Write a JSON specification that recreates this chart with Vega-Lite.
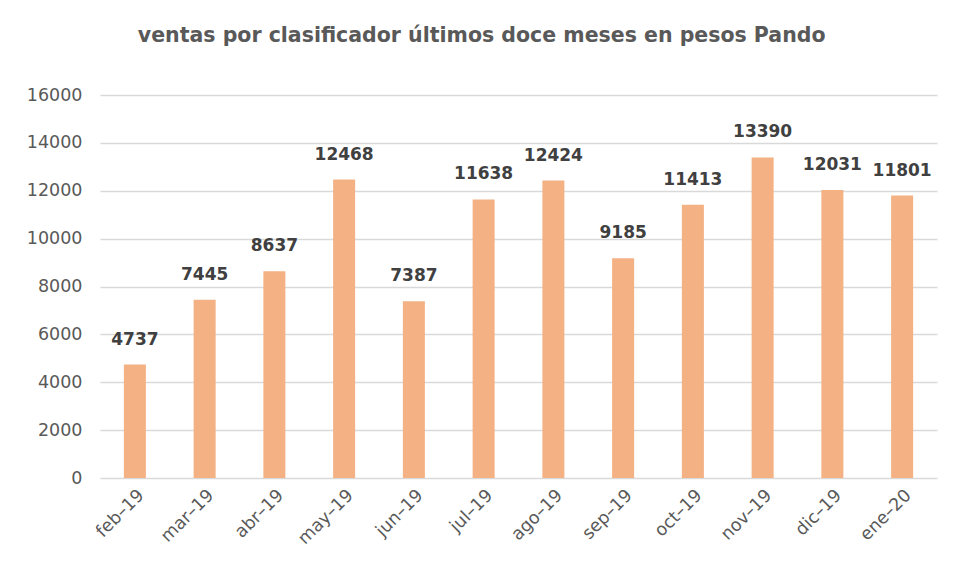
{
  "$schema": "https://vega.github.io/schema/vega-lite/v6.json",
  "width": 837,
  "height": 383,
  "autosize": {"type": "none"},
  "padding": {"left": 100, "top": 95, "right": 16, "bottom": 100},
  "background": "white",
  "title": {
    "text": "ventas por clasificador últimos doce meses en pesos Pando",
    "font": "DejaVu Sans",
    "fontSize": 20.5,
    "fontWeight": "bold",
    "color": "#595959",
    "anchor": "middle",
    "frame": "bounds",
    "offset": 40
  },
  "data": {
    "values": [
      {"mes": "feb–19", "ventas": 4737},
      {"mes": "mar–19", "ventas": 7445},
      {"mes": "abr–19", "ventas": 8637},
      {"mes": "may–19", "ventas": 12468},
      {"mes": "jun–19", "ventas": 7387},
      {"mes": "jul–19", "ventas": 11638},
      {"mes": "ago–19", "ventas": 12424},
      {"mes": "sep–19", "ventas": 9185},
      {"mes": "oct–19", "ventas": 11413},
      {"mes": "nov–19", "ventas": 13390},
      {"mes": "dic–19", "ventas": 12031},
      {"mes": "ene–20", "ventas": 11801}
    ]
  },
  "encoding": {
    "x": {
      "field": "mes",
      "type": "nominal",
      "sort": null,
      "title": null,
      "axis": {
        "labelAngle": -45,
        "labelFont": "DejaVu Sans",
        "labelFontSize": 17.5,
        "labelColor": "#595959",
        "ticks": false,
        "domain": false,
        "labelPadding": 8
      }
    },
    "y": {
      "field": "ventas",
      "type": "quantitative",
      "title": null,
      "scale": {"domain": [0, 16000]},
      "axis": {
        "values": [0, 2000, 4000, 6000, 8000, 10000, 12000, 14000, 16000],
        "format": "d",
        "labelFont": "DejaVu Sans",
        "labelFontSize": 17.5,
        "labelColor": "#595959",
        "ticks": false,
        "domain": false,
        "gridColor": "#d9d9d9",
        "gridWidth": 1.5,
        "labelPadding": 18
      }
    }
  },
  "layer": [
    {"mark": {"type": "bar", "color": "#F4B183", "size": 22}},
    {
      "mark": {
        "type": "text",
        "baseline": "bottom",
        "dy": -16,
        "font": "DejaVu Sans",
        "fontSize": 17,
        "fontWeight": "bold",
        "color": "#404040"
      },
      "encoding": {"text": {"field": "ventas", "type": "quantitative", "format": "d"}}
    }
  ],
  "config": {"view": {"stroke": null}}
}
